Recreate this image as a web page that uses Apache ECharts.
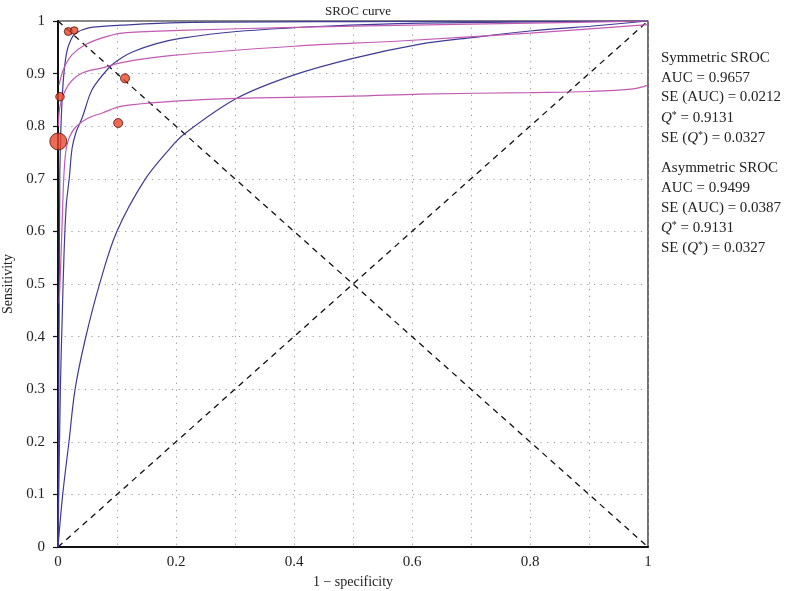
<!DOCTYPE html>
<html>
<head>
<meta charset="utf-8">
<script src="https://cdn.jsdelivr.net/npm/echarts@6/dist/echarts.min.js"></script>
<style>
html,body{margin:0;padding:0;background:#fff;}
#chart{width:788px;height:591px;}
</style>
</head>
<body>
<div id="chart"></div>
<script>
// Study points: [1 - specificity, sensitivity]
var studyX = [0.0175, 0.0276, 0.1136, 0.0034, 0.102, 0.0005];
var studyY = [0.980, 0.982, 0.891, 0.856, 0.806, 0.771];
var studySize = [8, 7.5, 9, 8.5, 9, 17];

// Symmetric SROC (blue): upper CI, central curve, lower CI
var symUpper = [[0,0],[0.001,0.2],[0.002,0.45],[0.003,0.7],[0.0045,0.78],[0.0068,0.847],[0.01,0.9],[0.015,0.942],[0.022,0.965],[0.029,0.976],[0.052,0.987],[0.108,0.992],[0.207,0.997],[0.5,0.999],[1,1]];
var symCentral = [[0,0],[0.004,0.3],[0.007,0.43],[0.01,0.55],[0.014,0.65],[0.019,0.7],[0.024,0.759],[0.031,0.79],[0.041,0.816],[0.054,0.86],[0.063,0.879],[0.089,0.914],[0.108,0.93],[0.128,0.942],[0.167,0.957],[0.207,0.967],[0.303,0.98],[0.45,0.99],[0.614,0.996],[1,1]];
var symLower = [[0,0],[0.008,0.1],[0.0186,0.2],[0.029,0.3],[0.046,0.394],[0.071,0.502],[0.0994,0.599],[0.147,0.698],[0.19,0.758],[0.215,0.786],[0.303,0.853],[0.399,0.897],[0.5,0.929],[0.614,0.956],[0.698,0.968],[0.8,0.981],[0.902,0.99],[1,1]];

// Asymmetric SROC (magenta): upper CI, central curve, lower CI
var asymUpper = [[0.002,0.879],[0.01,0.91],[0.024,0.936],[0.046,0.955],[0.075,0.968],[0.108,0.977],[0.207,0.982],[0.4,0.988],[0.6,0.992],[0.8,0.996],[1,1]];
var asymCentral = [[0.001,0.8],[0.004,0.841],[0.018,0.879],[0.041,0.901],[0.075,0.911],[0.108,0.921],[0.19,0.934],[0.4,0.952],[0.58,0.962],[0.8,0.977],[1,0.993]];
var asymLower = [[0.002,0.463],[0.005,0.55],[0.007,0.615],[0.0097,0.7],[0.013,0.75],[0.018,0.775],[0.029,0.797],[0.052,0.816],[0.075,0.825],[0.108,0.838],[0.207,0.848],[0.303,0.853],[0.5,0.857],[0.614,0.861],[0.8,0.864],[0.9,0.866],[0.975,0.871],[1,0.878]];

// Reference diagonals
var diagUp = [[0,0],[1,1]];
var diagDown = [[0,1],[1,0]];

// Text
var chartTitle = 'SROC curve';
var xTitle = '1 \u2212 specificity';
var yTitle = 'Sensitivity';
var statLines = [
  '{n|Symmetric SROC}',
  '{n|AUC = 0.9657}',
  '{n|SE (AUC) = 0.0212}',
  '{i|Q}{s|*}{n| = 0.9131}',
  '{n|SE (}{i|Q}{s|*}{n|) = 0.0327}',
  '{n|Asymmetric SROC}',
  '{n|AUC = 0.9499}',
  '{n|SE (AUC) = 0.0387}',
  '{i|Q}{s|*}{n| = 0.9131}',
  '{n|SE (}{i|Q}{s|*}{n|) = 0.0327}'
];

var FONT = '"Liberation Serif", "DejaVu Serif", serif';
var BLUE = '#3f3b96';
var MAG = '#c25ab2';

var chart = echarts.init(document.getElementById('chart'), null, {renderer: 'canvas'});

function lineSeries(data, color) {
  return {
    type: 'line', data: data, showSymbol: false, symbol: 'none',
    smooth: 0.35,
    lineStyle: {color: color, width: 1.2}, z: 3, silent: true
  };
}
function dashSeries(data) {
  return {
    type: 'line', data: data, showSymbol: false, symbol: 'none',
    lineStyle: {color: '#111', width: 1.3, type: [6, 5]}, z: 2, silent: true
  };
}

var statTops = [51, 71, 90, 110, 130, 161, 181, 201, 220, 240];
var rich = {
  n: {fontFamily: FONT, fontSize: 15, color: '#222'},
  i: {fontFamily: FONT, fontSize: 15, fontStyle: 'italic', color: '#222'},
  s: {fontFamily: FONT, fontSize: 10, color: '#222', verticalAlign: 'top', padding: [0, 0, 6, 0]}
};
var graphics = statLines.map(function (t, k) {
  return {
    type: 'text', left: 661, top: statTops[k],
    style: {text: t, rich: rich, fill: '#222'}
  };
});

var option = {
  animation: false,
  backgroundColor: '#fff',
  title: {
    text: chartTitle, left: 353, top: 0, textAlign: 'center',
    textStyle: {fontFamily: FONT, fontSize: 13, fontWeight: 'normal', color: '#222'}
  },
  grid: {left: 58, top: 21, width: 590, height: 526, show: true, borderColor: '#111', borderWidth: 1.2, backgroundColor: 'transparent', containLabel: false, outerBoundsMode: 'none'},
  xAxis: {
    type: 'value', min: 0, max: 1, interval: 0.1,
    name: xTitle, nameLocation: 'middle', nameGap: 24,
    nameTextStyle: {fontFamily: FONT, fontSize: 14, color: '#222'},
    axisLine: {show: true, onZero: false, lineStyle: {color: '#111', width: 2}},
    axisTick: {show: false},
    axisLabel: {
      fontFamily: FONT, fontSize: 15, color: '#222', margin: 8,
      formatter: function (v) {
        var k = Math.round(v * 10);
        return k % 2 === 0 ? String(k / 10) : '';
      }
    },
    splitLine: {show: true, lineStyle: {color: '#9a9a9a', width: 1, type: [1.2, 5.5]}}
  },
  yAxis: {
    type: 'value', min: 0, max: 1, interval: 0.1,
    name: yTitle, nameLocation: 'middle', nameGap: 34, nameRotate: 90,
    nameTextStyle: {fontFamily: FONT, fontSize: 14, color: '#222'},
    axisLine: {show: true, onZero: false, lineStyle: {color: '#111', width: 2}},
    axisTick: {show: true, inside: false, length: 5, lineStyle: {color: '#111', width: 1.2}},
    axisLabel: {
      fontFamily: FONT, fontSize: 15, color: '#222', margin: 13,
      formatter: function (v) { return String(Math.round(v * 10) / 10); }
    },
    splitLine: {show: true, lineStyle: {color: '#9a9a9a', width: 1, type: [1.2, 5.5]}}
  },
  graphic: graphics,
  series: [
    dashSeries(diagUp),
    dashSeries(diagDown),
    lineSeries(symUpper, BLUE),
    lineSeries(symCentral, BLUE),
    lineSeries(symLower, BLUE),
    lineSeries(asymUpper, MAG),
    lineSeries(asymCentral, MAG),
    lineSeries(asymLower, MAG),
    {
      type: 'scatter', clip: false, z: 5,
      data: studyX.map(function (x, k) { return {value: [x, studyY[k]], symbolSize: studySize[k]}; }),
      itemStyle: {color: '#e8452a', borderColor: '#4a1408', borderWidth: 1},
      silent: true
    }
  ]
};
chart.setOption(option);
</script>
</body>
</html>
